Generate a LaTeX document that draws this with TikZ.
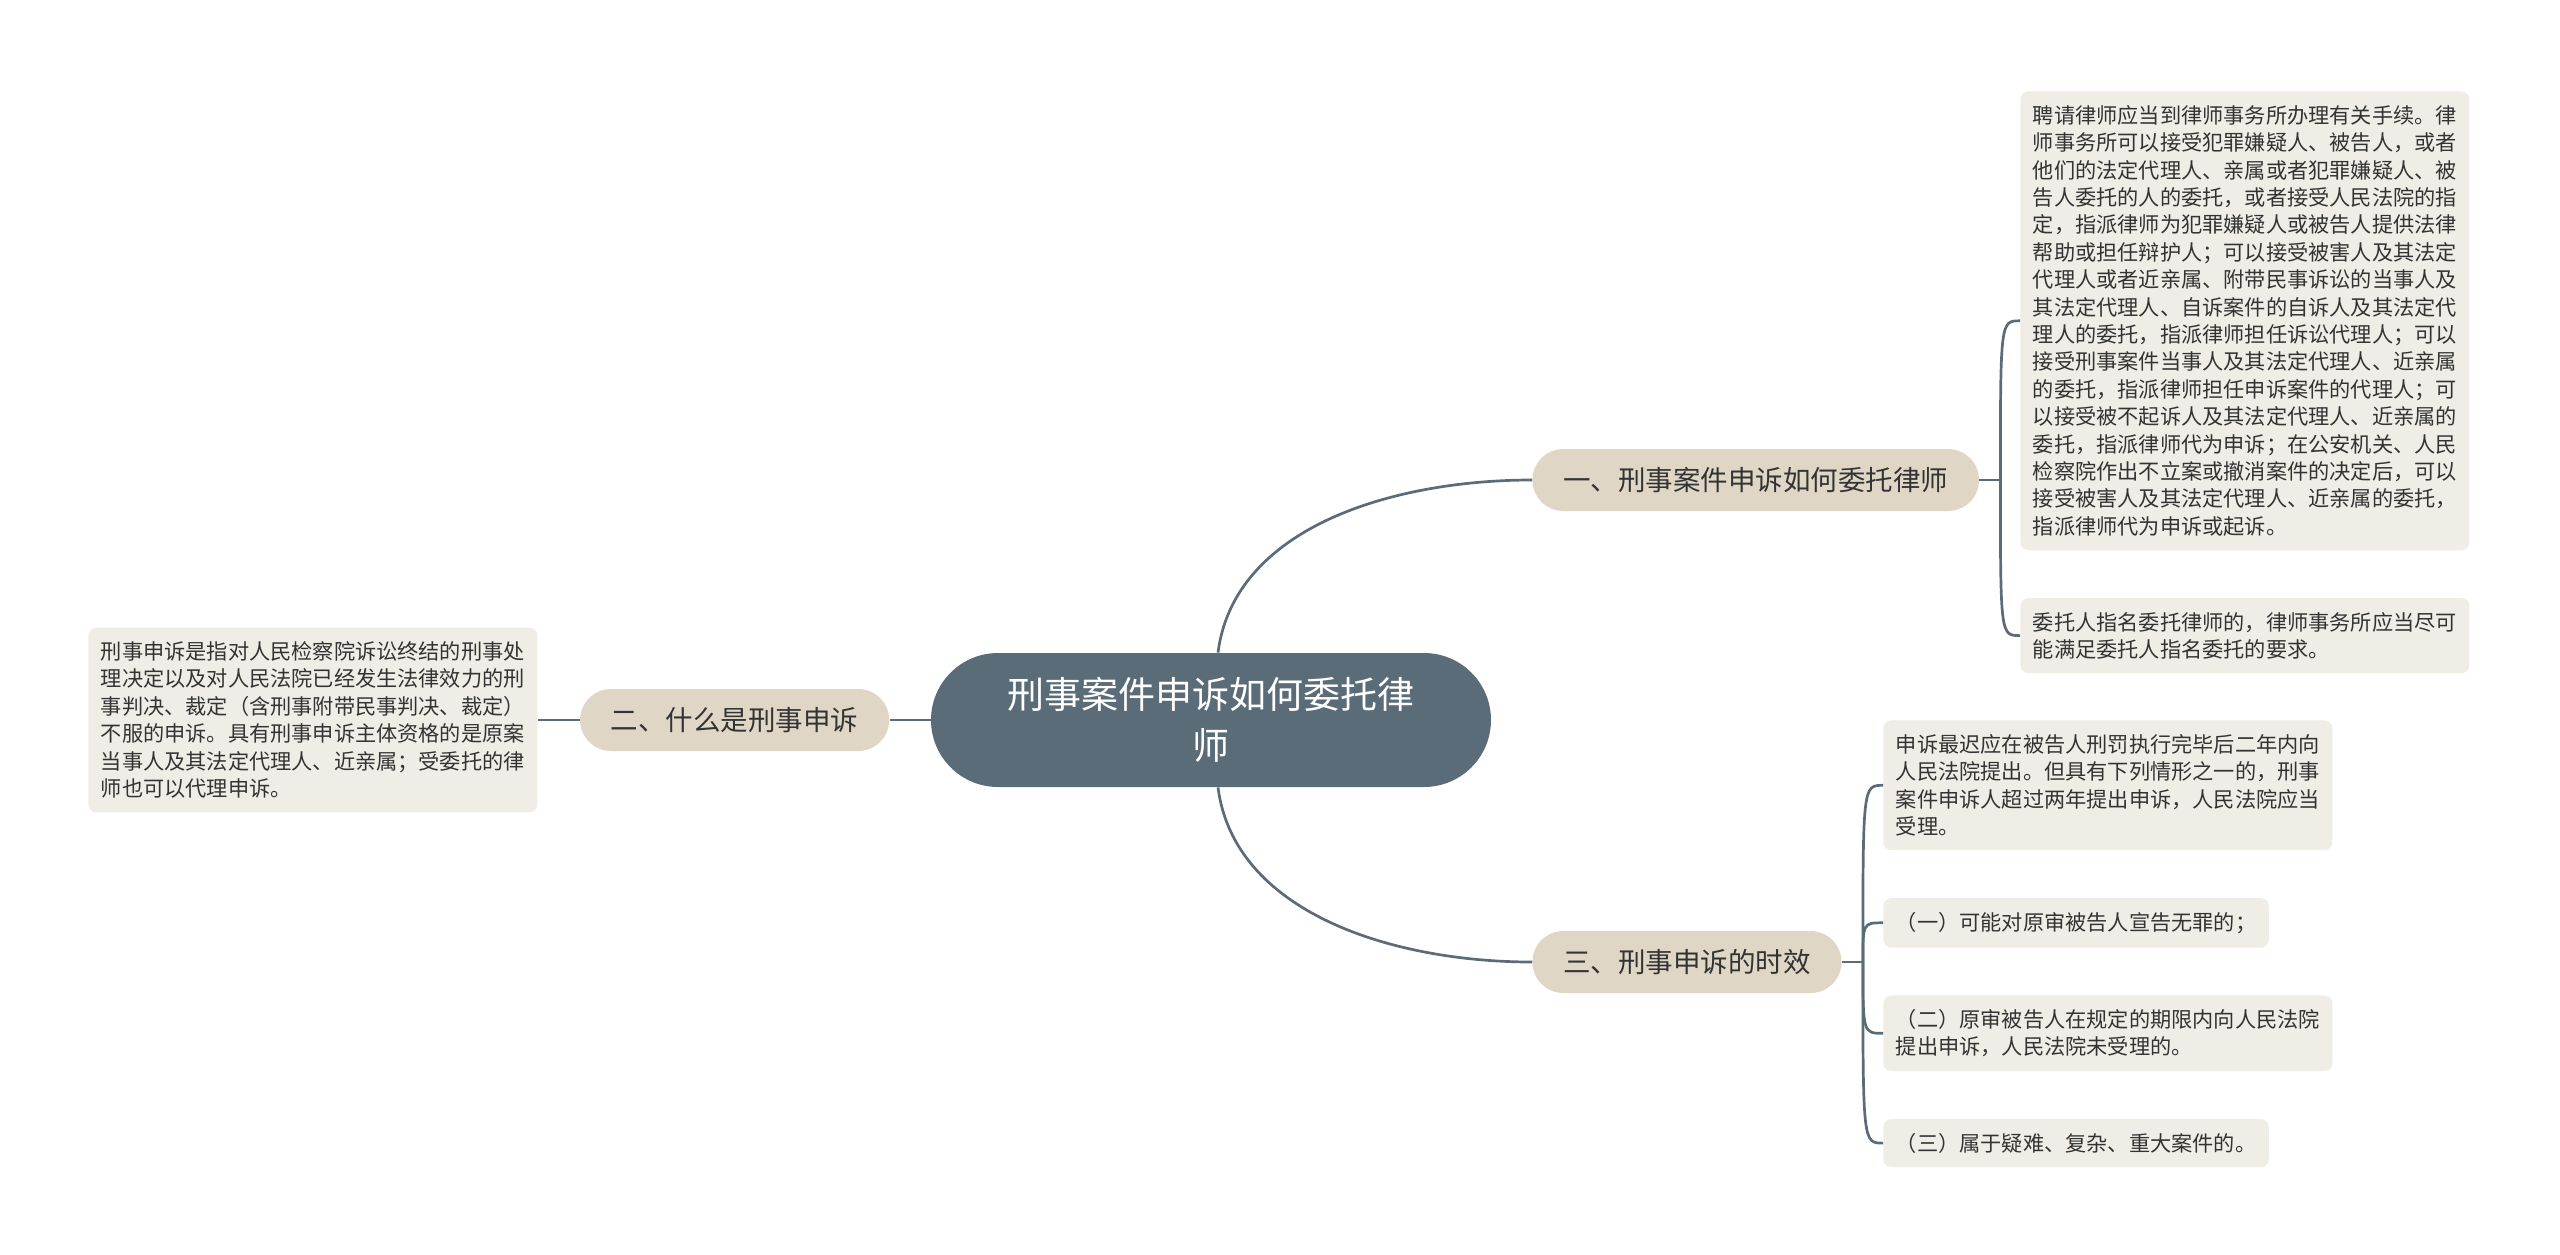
\documentclass[tikz,border=0pt]{standalone}
\usepackage{fontspec}
\setmainfont{Noto Sans CJK SC}
\usetikzlibrary{positioning}
\definecolor{slate}{HTML}{5B6C79}
\definecolor{sand}{HTML}{E0D6C6}
\definecolor{paper}{HTML}{F0EDE6}
\definecolor{ink}{HTML}{333333}
\tikzset {
    link/.style={draw=slate, line width=1.35pt},
    root/.style={fill=slate, text=white, rounded corners=33.5pt, minimum width=280pt, minimum height=67pt, align=center, font=\fontsize{18.5pt}{25.5pt}\selectfont},
    topic/.style={fill=sand, text=ink, rounded corners=15.5pt, minimum height=31pt, inner xsep=15.4pt, font=\fontsize{13.75pt}{16pt}\selectfont},
    note/.style={fill=paper, text=ink, rounded corners=4pt, inner xsep=6.25pt, inner ysep=7pt, align=left, font=\fontsize{10.6pt}{13.7pt}\selectfont}
}
\begin{document}
\begin{tikzpicture}[x=0.5pt, y=-0.5pt]
                \fill[white] (0,0) rectangle (2560,1254);
                \useasboundingbox (0,0) rectangle (2560,1254);

                \node[root] (root) at (1211,720) {刑事案件申诉如何委托律\\师};
                \node[topic, anchor=west] (t1) at (1532,480) {一、刑事案件申诉如何委托律师};
                \node[topic, left=20.5pt of root] (t2) {二、什么是刑事申诉};
                \node[topic, anchor=west] (t3) at (1532,962) {三、刑事申诉的时效};

                \node[note, anchor=north west] (n11) at (2020,91) {聘请律师应当到律师事务所办理有关手续。律\\师事务所可以接受犯罪嫌疑人、被告人，或者\\他们的法定代理人、亲属或者犯罪嫌疑人、被\\告人委托的人的委托，或者接受人民法院的指\\定，指派律师为犯罪嫌疑人或被告人提供法律\\帮助或担任辩护人；可以接受被害人及其法定\\代理人或者近亲属、附带民事诉讼的当事人及\\其法定代理人、自诉案件的自诉人及其法定代\\理人的委托，指派律师担任诉讼代理人；可以\\接受刑事案件当事人及其法定代理人、近亲属\\的委托，指派律师担任申诉案件的代理人；可\\以接受被不起诉人及其法定代理人、近亲属的\\委托，指派律师代为申诉；在公安机关、人民\\检察院作出不立案或撤消案件的决定后，可以\\接受被害人及其法定代理人、近亲属的委托，\\指派律师代为申诉或起诉。};
                \node[note, below right=23.5pt and 0pt of n11.south west] (n12) {委托人指名委托律师的，律师事务所应当尽可\\能满足委托人指名委托的要求。};

                \node[note, left=21pt of t2] (n21) {刑事申诉是指对人民检察院诉讼终结的刑事处\\理决定以及对人民法院已经发生法律效力的刑\\事判决、裁定（含刑事附带民事判决、裁定）\\不服的申诉。具有刑事申诉主体资格的是原案\\当事人及其法定代理人、近亲属；受委托的律\\师也可以代理申诉。};

                \node[note, anchor=north west] (n31) at (1883,720) {申诉最迟应在被告人刑罚执行完毕后二年内向\\人民法院提出。但具有下列情形之一的，刑事\\案件申诉人超过两年提出申诉，人民法院应当\\受理。};
                \node[note, below right=23.5pt and 0pt of n31.south west] (n32) {（一）可能对原审被告人宣告无罪的；};
                \node[note, below right=23.5pt and 0pt of n32.south west] (n33) {（二）原审被告人在规定的期限内向人民法院\\提出申诉，人民法院未受理的。};
                \node[note, below right=23.5pt and 0pt of n33.south west] (n34) {（三）属于疑难、复杂、重大案件的。};

                \draw[link] ([xshift=3.5pt]root.north) .. controls +(16,-125) and +(-140,0) .. (t1.west);
                \draw[link] ([xshift=3.5pt]root.south) .. controls +(16,125) and +(-140,0) .. (t3.west);
                \draw[link] (root.west) -- (t2.east);
                \draw[link] (t2.west) -- (n21.east);

                \draw[link] (t1.east) -- ++(21,0) coordinate (j1);
                \draw[link] (j1) .. controls (j1 |- n11.west) .. (n11.west);
                \draw[link] (j1) .. controls (j1 |- n12.west) .. (n12.west);

                \draw[link] (t3.east) -- ++(21,0) coordinate (j3);
                \draw[link] (j3) .. controls (j3 |- n31.west) .. (n31.west);
                \draw[link] (j3) .. controls (j3 |- n32.west) .. (n32.west);
                \draw[link] (j3) .. controls (j3 |- n33.west) .. (n33.west);
                \draw[link] (j3) .. controls (j3 |- n34.west) .. (n34.west);
            \end{tikzpicture}
\end{document}
